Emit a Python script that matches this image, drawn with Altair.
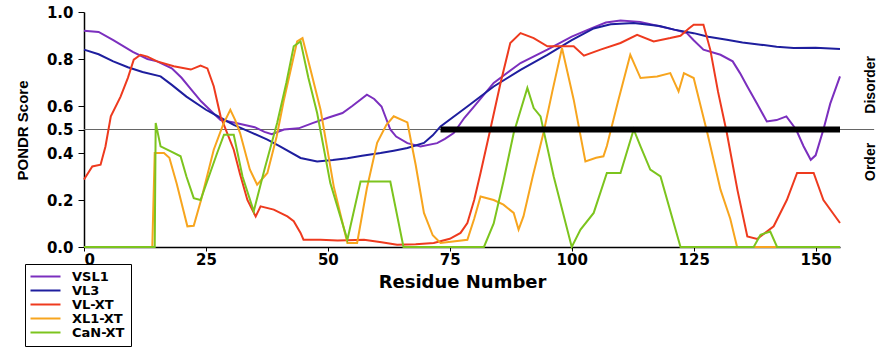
import altair as alt
import pandas as pd

# ---- data ----
series_names = ["VSL1", "VL3", "VL-XT", "XL1-XT", "CaN-XT"]
series_colors = ["#7B2FBE", "#1E1E9E", "#EE3A1E", "#F7A51E", "#7CC41E"]

vsl1_x = [0, 3, 6, 10, 13, 15, 18, 20, 22, 24, 26, 28, 30.7, 35, 37, 38.5, 41, 44, 47, 50, 53, 55, 58, 59.5, 61, 62.8, 64,
          66.3, 69, 72.4, 74, 75.8, 78, 80, 84, 89.5, 95, 100, 104, 107, 110, 114, 118, 121, 123.6, 125, 127, 130.5,
          133, 134.5, 136, 138, 140, 142, 144, 146, 147.5, 149, 150, 151.6, 153, 155]
vsl1_y = [0.92, 0.915, 0.88, 0.83, 0.80, 0.79, 0.76, 0.72, 0.67, 0.62, 0.58, 0.54, 0.53, 0.51, 0.49, 0.48, 0.50, 0.505,
          0.528, 0.55, 0.57, 0.60, 0.648, 0.63, 0.598, 0.50, 0.47, 0.442, 0.428, 0.442, 0.46, 0.485, 0.55, 0.598,
          0.698, 0.783, 0.84, 0.895, 0.93, 0.955, 0.964, 0.958, 0.939, 0.925, 0.91, 0.88, 0.84, 0.818, 0.79, 0.74,
          0.683, 0.61, 0.534, 0.54, 0.556, 0.50, 0.43, 0.371, 0.39, 0.50, 0.61, 0.726]

vl3_x = [0, 3, 6, 9, 12, 15.7, 18, 21, 25, 28, 30.7, 34, 37.6, 40, 44.4, 47.8, 51, 54, 57, 60.8, 63.5, 66.3, 69.7, 71.5,
         73.1, 78.6, 84, 89.5, 95, 100, 104.5, 108, 112.7, 118, 121, 125, 128, 131.8, 135, 138.7, 142, 145.5, 150, 155]
vl3_y = [0.84, 0.82, 0.79, 0.765, 0.745, 0.726, 0.69, 0.64, 0.584, 0.55, 0.52, 0.49, 0.457, 0.43, 0.379, 0.364, 0.37,
         0.378, 0.388, 0.40, 0.41, 0.421, 0.443, 0.475, 0.513, 0.598, 0.683, 0.754, 0.818, 0.88, 0.93, 0.948, 0.953,
         0.94, 0.925, 0.91, 0.895, 0.882, 0.87, 0.861, 0.852, 0.847, 0.848, 0.843]

vlxt_x = [0, 1.7, 3.4, 4.4, 5.5, 7.5, 9, 10.2, 11.6, 13, 15, 18.4, 21.9, 23.9, 25.3, 26.6, 28, 30.7, 32, 33.5, 35.2,
          36.2, 38.9, 41.7, 43, 44.4, 45, 48.5, 52, 57.4, 61, 64.2, 68, 71.7, 75, 77.2, 78.6, 80, 81.3, 83.3, 85.4,
          87.4, 89.5, 92.2, 95, 97.7, 100.4, 102.5, 105.9, 110, 113.4, 116.8, 120.2, 122.3, 124, 125, 127, 128.4,
          130, 131.8, 134, 136, 138, 141.4, 144.1, 146.2, 149.6, 151.6, 155]
vlxt_y = [0.287, 0.343, 0.35, 0.428, 0.556, 0.64, 0.72, 0.797, 0.818, 0.81, 0.79, 0.769, 0.755, 0.772, 0.76, 0.684,
          0.556, 0.414, 0.31, 0.2, 0.13, 0.173, 0.159, 0.13, 0.11, 0.06, 0.031, 0.031, 0.028, 0.031, 0.02, 0.01,
          0.012, 0.017, 0.035, 0.06, 0.102, 0.2, 0.315, 0.5, 0.698, 0.868, 0.91, 0.889, 0.854, 0.854, 0.854, 0.814,
          0.84, 0.868, 0.903, 0.875, 0.889, 0.899, 0.93, 0.946, 0.946, 0.84, 0.66, 0.485, 0.24, 0.045, 0.034, 0.088,
          0.2, 0.315, 0.315, 0.2, 0.102]

xl1_x = [0, 14, 14.5, 16.4, 17.5, 19, 21.2, 22.5, 24, 26.6, 28.5, 30, 31, 32, 34, 35.5, 37.6, 39.5, 41, 43.7, 44.8,
         46.5, 48.5, 51.2, 54, 56, 58, 60.1, 62, 63.5, 66.3, 68, 69.7, 71.5, 73.1, 78.6, 80, 81.3, 84, 86, 88.1, 89.1,
         90.1, 92, 94.2, 96, 98, 100.4, 102.8, 105, 106.5, 107.2, 109.5, 112, 114.1, 117.5, 120.2, 121.9, 123, 125,
         127.8, 130.5, 132.5, 133.9, 155]
xl1_y = [0, 0, 0.4, 0.4, 0.38, 0.27, 0.088, 0.09, 0.2, 0.414, 0.52, 0.584, 0.54, 0.485, 0.33, 0.265, 0.315, 0.47,
         0.627, 0.875, 0.889, 0.75, 0.584, 0.258, 0.017, 0.017, 0.25, 0.443, 0.52, 0.556, 0.53, 0.35, 0.145, 0.05,
         0.017, 0.031, 0.12, 0.215, 0.2, 0.18, 0.145, 0.074, 0.13, 0.3, 0.485, 0.66, 0.847, 0.627, 0.364, 0.38,
         0.386, 0.43, 0.62, 0.818, 0.719, 0.726, 0.74, 0.662, 0.74, 0.719, 0.485, 0.244, 0.12, 0.0, 0.0]

can_x = [0, 14.5, 14.7, 15.7, 17.8, 19.8, 21, 22.5, 23.9, 27.3, 28.7, 30.7, 32.5, 34.8, 37, 39.6, 41.5, 43, 44.4, 46,
         47.8, 50.5, 54, 56.7, 62.8, 65.5, 82, 84, 86, 88.1, 90.9, 92.2, 93.6, 96.3, 100, 101.8, 104.5, 107.2, 110,
         112.7, 114.1, 116.1, 118.2, 122.3, 137.3, 138.7, 140.7, 142.1, 155]
can_y = [0, 0, 0.528, 0.428, 0.407, 0.386, 0.3, 0.208, 0.2, 0.4, 0.478, 0.478, 0.3, 0.152, 0.33, 0.528, 0.7, 0.854,
         0.875, 0.72, 0.57, 0.272, 0.031, 0.279, 0.279, 0.0, 0.0, 0.1, 0.28, 0.485, 0.677, 0.591, 0.556, 0.3, 0.0,
         0.074, 0.145, 0.315, 0.315, 0.5, 0.428, 0.329, 0.3, 0.0, 0.0, 0.052, 0.066, 0.0, 0.0]

threshold = 0.5
thick_start, thick_end = 73.1, 155
x_ticks = [0, 25, 50, 75, 100, 125, 150]
y_ticks = [0.0, 0.2, 0.4, 0.5, 0.6, 0.8, 1.0]
side_labels = ["Disorder", "Order"]
side_label_x = [161.4, 161.4]
side_label_y = [0.69, 0.362]

# ---- build table ----
rows = []
for name, xs, ys in zip(series_names,
                        [vsl1_x, vl3_x, vlxt_x, xl1_x, can_x],
                        [vsl1_y, vl3_y, vlxt_y, xl1_y, can_y]):
    for i, (xv, yv) in enumerate(zip(xs, ys)):
        rows.append({"series": name, "residue": xv, "score": yv, "idx": i})
df = pd.DataFrame(rows)

xscale = alt.Scale(domain=[0, 155], nice=False, zero=False)
yscale = alt.Scale(domain=[0, 1], nice=False)

LABEL_FONT = "DejaVu Sans"
NARROW = "Liberation Sans"

xaxis = alt.Axis(values=x_ticks, tickCount=20, title="Residue Number", format="d", grid=False,
                 tickSize=4, labelPadding=1, titlePadding=6)
yaxis = alt.Axis(values=y_ticks, tickCount=20, format=".1f", title="PONDR Score", grid=False,
                 labelOverlap=False, labelBound=False,
                 tickSize=6, labelPadding=5, titleX=-62, titleY=118, titleAngle=270,
                 titleAlign="center", titleBaseline="middle",
                 titleFont=NARROW, titleFontSize=15, titleFontWeight="bold")

thin = alt.Chart(pd.DataFrame({"x": [0], "x2": [162], "y": [threshold]})).mark_rule(
    color="#666666", strokeWidth=1
).encode(x=alt.X("x:Q", scale=xscale, axis=xaxis), x2="x2:Q",
         y=alt.Y("y:Q", scale=yscale, axis=yaxis))

lines = alt.Chart(df).mark_line(strokeWidth=2, interpolate="linear").encode(
    x=alt.X("residue:Q", scale=xscale, axis=xaxis),
    y=alt.Y("score:Q", scale=yscale, axis=yaxis),
    color=alt.Color("series:N",
                    scale=alt.Scale(domain=series_names, range=series_colors),
                    legend=alt.Legend(title=None, orient="none", legendX=-59, legendY=252,
                                      strokeColor="black", padding=6,
                                      symbolType="M-3,0H3", symbolSize=100, symbolStrokeWidth=2,
                                      symbolOffset=8, labelOffset=20,
                                      labelFont=LABEL_FONT, labelFontSize=13, labelFontWeight="bold",
                                      labelColor="black", rowPadding=-3)),
    order="idx:Q",
    detail="series:N",
)

thick = alt.Chart(pd.DataFrame({"x": [thick_start], "x2": [thick_end], "y": [threshold]})).mark_rule(
    color="black", strokeWidth=6
).encode(x="x:Q", x2="x2:Q", y="y:Q")

side = alt.Chart(pd.DataFrame({"t": side_labels, "x": side_label_x, "y": side_label_y})).mark_text(
    angle=270, align="center", baseline="middle", font=NARROW, fontSize=14, fontWeight="bold", color="black"
).encode(x="x:Q", y="y:Q", text="t:N")

chart = alt.layer(thin, lines, thick, side).properties(
    width=756, height=235,
    padding={"left": 84, "top": 12, "right": 48, "bottom": 100},
    autosize="none",
).configure_view(stroke=None).configure_axis(
    domainColor="black", tickColor="black", labelColor="black", titleColor="black",
    labelFont=LABEL_FONT, labelFontSize=15, labelFontWeight="bold",
    titleFont=LABEL_FONT, titleFontSize=18, titleFontWeight="bold", domainWidth=1.5
)

chart.save("out.html", embed_options={"renderer": "svg", "actions": False})
